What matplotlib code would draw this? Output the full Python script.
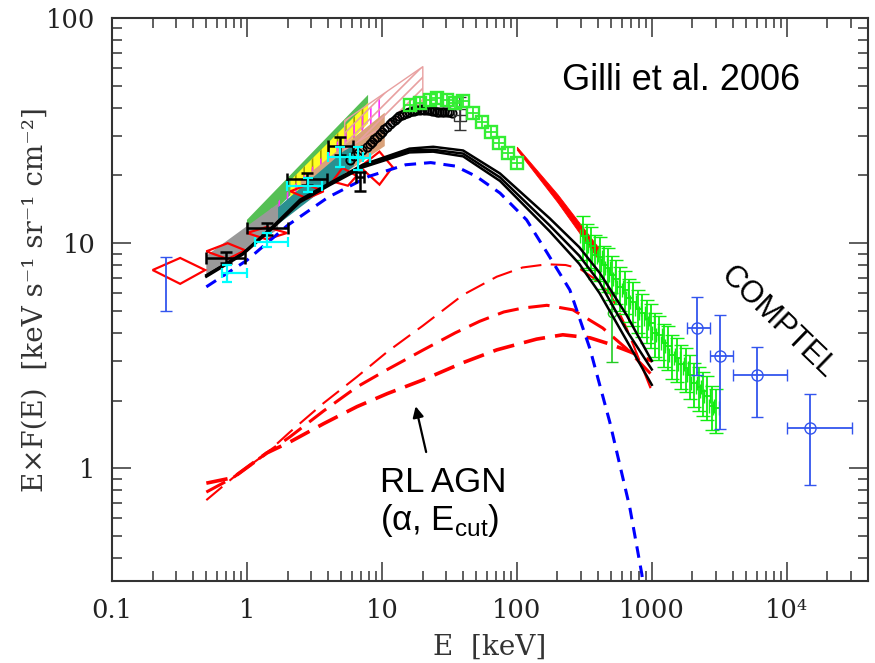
import numpy as np
import matplotlib
matplotlib.use("Agg")
import matplotlib.pyplot as plt

plt.rcParams['mathtext.fontset'] = 'custom'
plt.rcParams['mathtext.rm'] = 'Liberation Sans'
plt.rcParams['hatch.linewidth'] = 1.2

# --- model curves (keV, keV s-1 sr-1 cm-2) ---
bk_E = [0.5, 0.93, 1.56, 2.47, 4.1, 7.2, 16, 24, 40, 75, 175, 290, 410, 650, 1000]
bk1_F = [7.2, 9.0, 11.9, 15.6, 18.5, 22.3, 26.3, 26.8, 25.8, 20.4, 12.9, 9.6, 7.4, 4.8, 3.0]
bk2_F = [7.2, 9.0, 11.8, 15.4, 18.3, 22.0, 25.8, 26.0, 25.0, 19.6, 12.0, 8.8, 6.7, 4.1, 2.75]
bk3_F = [7.1, 8.9, 11.7, 15.2, 18.1, 21.7, 25.3, 25.5, 24.3, 18.9, 11.3, 8.1, 6.0, 3.7, 2.35]

bl_E = [0.5, 1.0, 2.0, 4.0, 8.0, 15, 23, 35, 50, 75, 118, 167, 247, 348, 489, 687, 843, 900]
bl_F = [6.4, 8.4, 12.0, 16.0, 19.8, 22.3, 22.8, 22.0, 19.8, 16.7, 12.7, 9.1, 6.2, 3.4, 1.6, 0.67, 0.34, 0.25]

rl1_E = [0.5, 0.79, 1.4, 2.08, 3.7, 6.53, 11, 20.1, 40, 71, 110, 167, 230, 293, 370, 489, 650, 1000]
rl1_F = [0.723, 0.91, 1.17, 1.45, 1.95, 2.55, 3.3, 4.3, 5.9, 7.1, 7.8, 8.06, 8.0, 7.7, 7.0, 6.0, 4.2, 2.2]
rl2_E = [0.5, 0.79, 1.4, 2.08, 3.7, 6.53, 11, 20.1, 35, 53, 80, 110, 167, 260, 433, 650, 1000]
rl2_F = [0.785, 0.91, 1.17, 1.38, 1.8, 2.30, 2.75, 3.35, 4.0, 4.5, 4.95, 5.15, 5.3, 5.06, 4.2, 3.4, 2.6]
rl3_E = [0.5, 0.79, 1.4, 2.08, 3.7, 6.53, 11, 20.1, 40, 71, 140, 219, 348, 500, 687, 1000]
rl3_F = [0.86, 0.91, 1.17, 1.31, 1.58, 1.88, 2.15, 2.47, 2.95, 3.36, 3.75, 3.92, 3.8, 3.55, 3.3, 3.0]

# --- power-law bowties: energy range, upper and lower edges ---
bands = [
    # E range,       upper,        lower,        face,      hatch, hatch colour
    ([1.0, 7.9],  [12.7, 45.6], [10.5, 36.0], '#55c055', '',   None),
    ([2.1, 7.9],  [19.0, 42.0], [15.0, 34.0], '#ffff22', '||', '#a0a000'),
    ([1.15, 10.0], [12.1, 44.7], [10.4, 31.9], 'none',   '||', '#ff33ff'),
    ([2.5, 10.5], [19.0, 38.0], [15.0, 27.0], '#d9a27a', '',   None),
    ([1.0, 6.2],  [11.0, 28.0], [9.5, 22.0],  '#2a9090', '',   None),
    ([0.5, 1.7],  [8.8, 15.0],  [7.3, 11.5],  '#999999', '',   None),
]
pink_E = [5.3, 20.1]
pink_hi = [35.0, 60.8]
pink_lo = [26.0, 42.1]

# filled red wedge
wedge_E = [100, 200, 400]
wedge_hi = [26.8, 16.5, 9.6]
wedge_lo = [26.0, 15.2, 8.5]

# red bowtie outlines: left, top, right, bottom vertices
diam_E = [[0.20, 0.32, 0.49, 0.32],
          [0.50, 0.72, 0.97, 0.72],
          [1.00, 1.40, 1.98, 1.40],
          [2.10, 2.80, 3.70, 2.80],
          [4.30, 5.10, 6.50, 5.60],
          [6.90, 9.60, 12.0, 9.60]]
diam_F = [[7.6, 8.6, 7.6, 6.6],
          [9.2, 10.0, 9.3, 8.5],
          [11.1, 11.8, 11.1, 10.4],
          [17.0, 18.2, 17.0, 15.8],
          [18.8, 21.6, 19.9, 18.0],
          [21.8, 25.5, 21.8, 18.2]]

# --- data points ---
bx_E = [0.70, 1.40, 2.78, 4.9, 6.87]
bx_Elo = [0.50, 1.0, 1.98, 3.97, 6.4]
bx_Ehi = [0.97, 2.02, 3.9, 6.1, 7.4]
bx_F = [8.6, 11.7, 19.3, 27.1, 19.7]
bx_Flo = [8.2, 10.9, 18.2, 24.6, 17.0]
bx_Fhi = [9.1, 12.3, 20.6, 29.7, 20.7]

cy_E = [0.71, 1.40, 2.83, 4.9, 6.6]
cy_Elo = [0.65, 1.15, 1.98, 3.97, 5.8]
cy_Ehi = [1.0, 2.02, 3.6, 7.2, 8.1]
cy_F = [7.4, 10.1, 18.0, 24.2, 24.0]
cy_Flo = [6.7, 9.6, 16.8, 21.9, 21.2]
cy_Fhi = [8.0, 11.1, 19.5, 26.8, 26.8]

bc_E = [5.8, 6.2, 6.6, 7.1, 7.7, 8.1, 8.4, 8.8, 9.2, 9.6, 10.0, 10.4, 10.9, 11.4,
        11.9, 12.4, 12.9, 13.5, 14.0, 14.6, 15.3, 16.0, 16.7, 17.4, 18.2, 19.0,
        19.8, 20.6, 21.5, 22.4, 23.4, 24.4, 25.5, 26.6, 27.8, 29.0, 30.2, 31.6, 33.0]
bc_F = [23.4, 24.3, 25.2, 26.0, 26.8, 27.5, 28.2, 29.0, 29.7, 30.4, 31.2, 32.0, 32.9, 33.7,
        34.5, 35.3, 36.1, 36.6, 37.0, 37.5, 37.9, 38.2, 38.5, 38.8, 39.1, 39.2,
        39.3, 39.2, 39.1, 39.0, 38.8, 38.5, 38.3, 38.3, 38.3, 38.3, 38.3, 38.1, 38.0]
bsq_E, bsq_F, bsq_Flo, bsq_Fhi = 37.8, 37.1, 31.9, 44.7

gs_E = [16.1, 19.1, 22.6, 25.5, 30.2, 34.7, 39.7, 47.0, 54.9, 64.0, 73.5, 85.5, 100]
gs_F = [41.2, 42.1, 43.4, 44.3, 43.4, 42.1, 42.6, 37.9, 34.6, 31.3, 27.9, 25.2, 22.8]

gr_E = [310, 330, 355, 380, 410, 440, 470, 505, 545, 585, 630, 680, 730, 790, 850,
        915, 985, 1060, 1140, 1230, 1320, 1420, 1530, 1650, 1780, 1910, 2060,
        2220, 2390, 2570, 2770, 2980]
gr_F = [10.8, 10.0, 9.7, 8.9, 8.7, 8.0, 7.8, 7.2, 6.9, 6.4, 6.2, 5.7, 5.5, 5.1, 4.9,
        4.6, 4.4, 4.0, 3.9, 3.6, 3.5, 3.2, 3.1, 2.9, 2.8, 2.6, 2.4, 2.3, 2.2, 2.1,
        1.9, 1.85]
gr_err = 0.22
gbig_E, gbig_F, gbig_Flo, gbig_Fhi = 505, 4.9, 2.98, 6.0

co_E = [2154, 3192, 6000, 14800]
co_Elo = [1815, 2690, 3980, 10000]
co_Ehi = [2690, 3980, 10000, 30200]
co_F = [4.2, 3.15, 2.6, 1.51]
co_Flo = [2.6, 1.5, 1.7, 0.84]
co_Fhi = [5.78, 4.8, 3.47, 2.14]
soft_E, soft_F, soft_Flo, soft_Fhi = 0.25, 7.0, 5.0, 8.7

fig = plt.figure(figsize=(8.75, 6.63), dpi=100)
ax = fig.add_axes([112/875, 1 - 581/663, 756/875, 563/663])
ax.set_xscale('log')
ax.set_yscale('log')
ax.set_xlim(0.1, 4e4)
ax.set_ylim(10**-0.5, 100)

def xy_err(c, lo, hi):
    c = np.asarray(c, float)
    return np.vstack([c - np.asarray(lo), np.asarray(hi) - c])

# bowties
for E, hi, lo, face, hatch, hc in bands:
    ax.fill_between(E, lo, hi, facecolor=face, edgecolor=hc if hc else 'none',
                    hatch=hatch if hatch else None, linewidth=0, zorder=2)
ax.fill_between(pink_E, pink_lo, pink_hi, facecolor='none', edgecolor='#e8a0a0',
                hatch='///', linewidth=1.0, zorder=2)
ax.fill_between(wedge_E, wedge_lo, wedge_hi, facecolor='red', edgecolor='red',
                linewidth=0.6, zorder=3)
for E, F in zip(diam_E, diam_F):
    ax.fill(E, F, facecolor='none', edgecolor='red', linewidth=1.6, zorder=4)

# RL AGN models
ax.plot(rl1_E, rl1_F, color='red', lw=1.5, dashes=(10, 4.5), zorder=3)
ax.plot(rl2_E, rl2_F, color='red', lw=2.2, dashes=(7, 3.2), zorder=3)
ax.plot(rl3_E, rl3_F, color='red', lw=2.6, dashes=(6, 2.8), zorder=3)

# unobscured AGN and total
ax.plot(bl_E, bl_F, color='blue', lw=2.2, dashes=(3.8, 2.6), zorder=4)
for F in (bk1_F, bk2_F, bk3_F):
    ax.plot(bk_E, F, color='black', lw=1.8, zorder=6)

# dense hard X-ray data
gr_F = np.asarray(gr_F)
ax.errorbar(gr_E, gr_F, yerr=gr_err * gr_F, xerr=0.05 * np.asarray(gr_E),
            fmt='none', ecolor='#11ee11', elinewidth=1.3, capsize=5, zorder=5)
ax.errorbar([gbig_E], [gbig_F], yerr=[[gbig_F - gbig_Flo], [gbig_Fhi - gbig_F]],
            fmt='o', mfc='none', mec='#22cc22', ecolor='#22cc22', ms=6,
            elinewidth=1.2, capsize=4, zorder=5)

ax.plot(bc_E, bc_F, 'o', mfc='none', mec='black', ms=6, mew=1.3, zorder=6)
ax.errorbar([bsq_E], [bsq_F], yerr=[[bsq_F - bsq_Flo], [bsq_Fhi - bsq_F]],
            fmt='s', mfc='none', mec='#333333', ecolor='#333333', ms=8,
            elinewidth=1.2, capsize=4, zorder=6)
ax.plot([bsq_E], [bsq_F], '+', color='#333333', ms=8, zorder=6)

ax.plot(gs_E, gs_F, 's', mfc='none', mec='#33ee33', ms=9, mew=1.7, zorder=7)
ax.plot(gs_E, gs_F, '+', color='#33ee33', ms=9, mew=1.3, zorder=7)

ax.errorbar(bx_E, bx_F, xerr=xy_err(bx_E, bx_Elo, bx_Ehi),
            yerr=xy_err(bx_F, bx_Flo, bx_Fhi), fmt='none', ecolor='black',
            elinewidth=1.8, capsize=4, capthick=1.8, zorder=8)
ax.errorbar(cy_E, cy_F, xerr=xy_err(cy_E, cy_Elo, cy_Ehi),
            yerr=xy_err(cy_F, cy_Flo, cy_Fhi), fmt='none', ecolor='cyan',
            elinewidth=1.6, capsize=3.5, capthick=1.6, zorder=8)

# COMPTEL and soft points
ax.errorbar(co_E, co_F, xerr=xy_err(co_E, co_Elo, co_Ehi),
            yerr=xy_err(co_F, co_Flo, co_Fhi), fmt='o', mfc='none', mec='#3355ee',
            ecolor='#3355ee', ms=8, elinewidth=1.3, capsize=4, zorder=8)
ax.errorbar([soft_E], [soft_F], yerr=[[soft_F - soft_Flo], [soft_Fhi - soft_F]],
            fmt='none', ecolor='#3355ee', elinewidth=1.3, capsize=4, zorder=8)

# annotations
ax.text(1640, 53, 'Gilli et al. 2006', family='Liberation Sans', fontsize=26,
        ha='center', va='center')
ax.text(8570, 4.47, 'COMPTEL', family='Liberation Sans', fontsize=22,
        rotation=-44, ha='center', va='center', rotation_mode='anchor')
ax.text(28.3, 0.87, 'RL AGN', family='Liberation Sans', fontsize=25,
        ha='center', va='center')
ax.text(26.9, 0.59, r'(α, E$_{\rm cut}$)', family='Liberation Sans', fontsize=25,
        ha='center', va='center')
ax.annotate('', xy=(17.6, 1.94), xytext=(21.5, 1.15),
            arrowprops=dict(arrowstyle='-|>', color='black', lw=1.6,
                            mutation_scale=16))

# axes styling
for s in ax.spines.values():
    s.set_linewidth(1.5)
    s.set_color('#333333')
ax.tick_params(which='both', direction='in', top=True, right=True,
               color='#333333', width=1.1)
ax.tick_params(which='major', length=14, labelsize=18.5, pad=12)
ax.tick_params(which='minor', length=7)
ax.set_xticks([0.1, 1, 10, 100, 1000, 1e4])
ax.set_xticklabels(['0.1', '1', '10', '100', '1000', '10⁴'], family='DejaVu Serif')
ax.set_yticks([1, 10, 100])
ax.set_yticklabels(['1', '10', '100'], family='DejaVu Serif')
ax.set_xlabel('E  [keV]', family='DejaVu Serif', fontsize=20, color='#333333',
              labelpad=8)
ax.set_ylabel('E×F(E)  [keV s⁻¹ sr⁻¹ cm⁻²]', family='DejaVu Serif', fontsize=20,
              color='#333333', labelpad=-2)
for lab in ax.get_xticklabels() + ax.get_yticklabels():
    lab.set_color('#222222')

fig.savefig('out.png', dpi=100)
